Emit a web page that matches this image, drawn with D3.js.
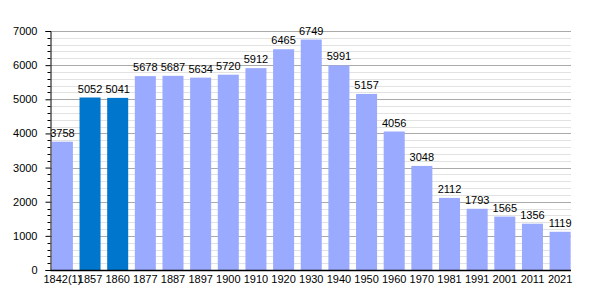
<!DOCTYPE html>
<html>
<head>
<meta charset="utf-8">
<script src="https://cdn.jsdelivr.net/npm/d3@7"></script>
<style>
  body { margin: 0; background: #fff; }
  text { font-family: "Liberation Sans", Arial, sans-serif; font-size: 11px; fill: #000; }
</style>
</head>
<body>
<div id="chart"></div>
<script>
var years = ['1842(1)', '1857', '1860', '1877', '1887', '1897', '1900', '1910', '1920', '1930',
             '1940', '1950', '1960', '1970', '1981', '1991', '2001', '2011', '2021'];
var population = [3758, 5052, 5041, 5678, 5687, 5634, 5720, 5912, 6465, 6749,
                  5991, 5157, 4056, 3048, 2112, 1793, 1565, 1356, 1119];
var highlighted = ['1857', '1860'];
var yTicks = [0, 1000, 2000, 3000, 4000, 5000, 6000, 7000];

var width = 600;
var height = 300;
var plotLeft = 50.5, plotRight = 572, plotTop = 31, plotBottom = 270;

var svg = d3.select('#chart')
    .append('svg')
    .attr('width', width)
    .attr('height', height);

var x = d3.scaleBand()
    .domain(years)
    .range([plotLeft, plotRight])
    .paddingInner(0.24)
    .paddingOuter(0.05);

var y = d3.scaleLinear()
    .domain([0, 7000])
    .range([plotBottom, plotTop]);

// minor grid every 200
var minor = d3.range(200, 7001, 200).filter(function(v) { return v % 1000 != 0; });
svg.append('g')
    .selectAll('line')
    .data(minor)
    .enter()
    .append('line')
    .attr('x1', plotLeft)
    .attr('x2', 571)
    .attr('y1', function(d) { return Math.round(y(d)) + 0.5; })
    .attr('y2', function(d) { return Math.round(y(d)) + 0.5; })
    .attr('stroke', '#e2e2e2');

svg.append('g')
    .selectAll('line')
    .data(yTicks.slice(1))
    .enter()
    .append('line')
    .attr('x1', plotLeft)
    .attr('x2', 571)
    .attr('y1', function(d) { return Math.round(y(d)) + 0.5; })
    .attr('y2', function(d) { return Math.round(y(d)) + 0.5; })
    .attr('stroke', '#aaaaaa');

// bars
svg.append('g')
    .selectAll('rect')
    .data(years)
    .enter()
    .append('rect')
    .attr('x', function(d) { return x(d); })
    .attr('width', x.bandwidth())
    .attr('y', function(d, i) { return y(population[i]); })
    .attr('height', function(d, i) { return plotBottom - y(population[i]); })
    .attr('fill', function(d) { return highlighted.indexOf(d) >= 0 ? '#0077cc' : '#99aaff'; });

// value labels
svg.append('g')
    .selectAll('text')
    .data(years)
    .enter()
    .append('text')
    .attr('x', function(d) { return x(d) + x.bandwidth() / 2; })
    .attr('y', function(d, i) { return y(population[i]) - 5; })
    .attr('text-anchor', 'middle')
    .text(function(d, i) { return population[i]; });

// y axis
var yAxis = d3.axisLeft(y)
    .tickValues(yTicks)
    .tickSize(5)
    .tickPadding(8)
    .tickFormat(d3.format('d'));
var yg = svg.append('g')
    .attr('transform', 'translate(' + plotLeft + ',0)')
    .call(yAxis);
yg.select('.domain').attr('stroke', '#000');
yg.selectAll('.tick line').attr('stroke', '#000');
yg.selectAll('.tick text')
    .style('font-family', '"Liberation Sans", Arial, sans-serif')
    .style('font-size', '11px');

yg.selectAll('.minor')
    .data(minor)
    .enter()
    .append('line')
    .attr('class', 'minor')
    .attr('x1', -3)
    .attr('x2', 0)
    .attr('y1', function(d) { return Math.round(y(d)) + 0.5; })
    .attr('y2', function(d) { return Math.round(y(d)) + 0.5; })
    .attr('stroke', '#000');

// x axis
var xAxis = d3.axisBottom(x)
    .tickSize(0)
    .tickPadding(5);
var xg = svg.append('g')
    .attr('transform', 'translate(0,' + (plotBottom + 0.5) + ')')
    .call(xAxis);
xg.select('.domain').attr('d', 'M' + plotLeft + ',0H571').attr('stroke', '#000').attr('stroke-width', 1.5);
xg.selectAll('.tick text')
    .style('font-family', '"Liberation Sans", Arial, sans-serif')
    .style('font-size', '11px');
</script>
</body>
</html>
